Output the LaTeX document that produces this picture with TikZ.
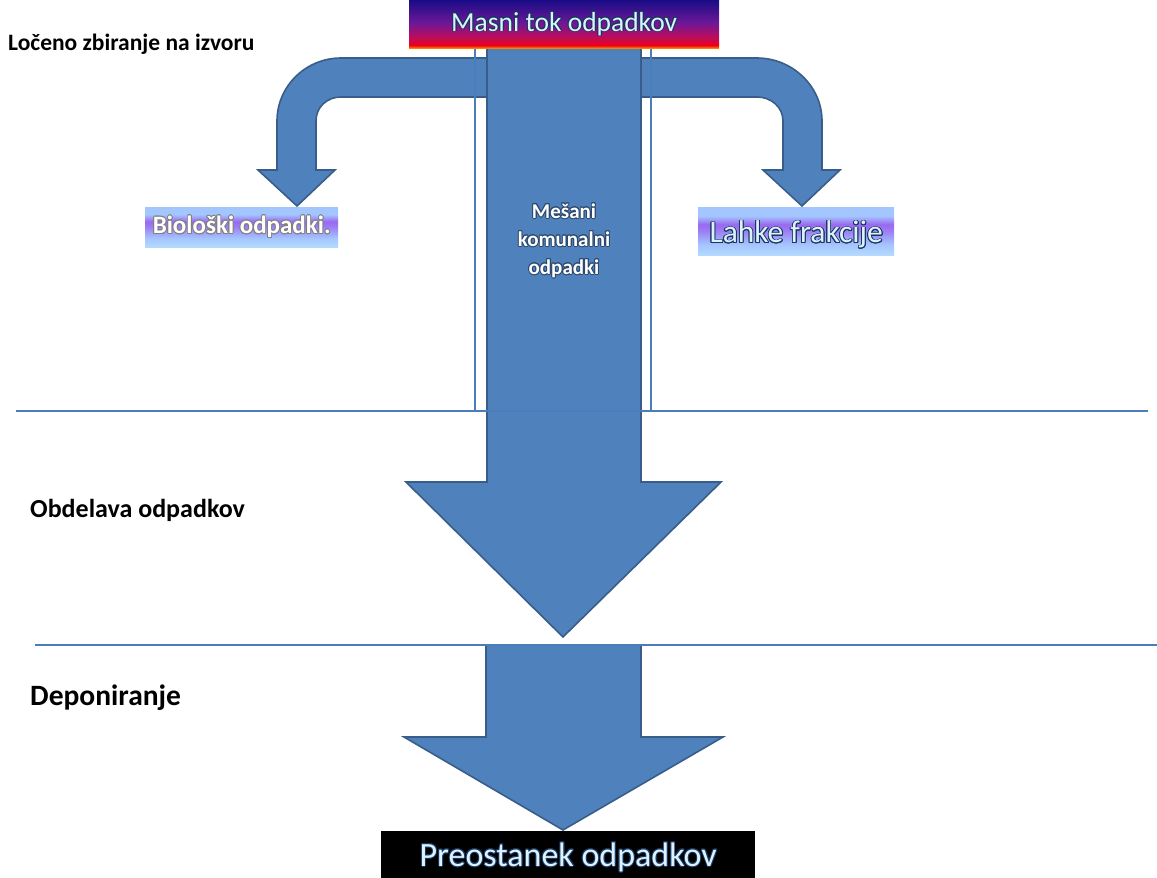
\documentclass[tikz,border=0pt]{standalone}
\usepackage{fontspec}
\setmainfont{Carlito}
\usepackage{xcolor}
\usepackage[copies]{contour}
\usetikzlibrary{positioning}
\definecolor{flowfill}{HTML}{4F81BD}
\definecolor{flowedge}{HTML}{385D8A}
\definecolor{divline}{HTML}{4A7EBB}
\definecolor{glowtxt}{HTML}{DCF2FF}
\definecolor{glowedge}{HTML}{17375E}
\definecolor{barnavy}{HTML}{1A0C86}
\definecolor{barpurple}{HTML}{6A1898}
\definecolor{barmagenta}{HTML}{C00C5A}
\definecolor{barred}{HTML}{EE0018}
\definecolor{barorange}{HTML}{FF8A00}
\definecolor{lilactop}{HTML}{A4C6FF}
\definecolor{lilacmid}{HTML}{9A68F0}
\definecolor{lilacbot}{HTML}{B4DAFF}
\pgfdeclareverticalshading{masnibar}{100bp}{color(0bp)=(barorange); color(25bp)=(barorange);
  color(28bp)=(barred); color(36bp)=(barmagenta); color(52bp)=(barpurple);
  color(75bp)=(barnavy); color(100bp)=(barnavy)}
\pgfdeclareverticalshading{lilacbar}{100bp}{color(0bp)=(lilacbot); color(25bp)=(lilacbot);
  color(36bp)=(lilactop); color(50bp)=(lilacmid!75!lilactop); color(57bp)=(lilacmid);
  color(66bp)=(lilactop); color(75bp)=(lilactop); color(100bp)=(lilactop)}
\contourlength{0.9pt}
\tikzstyle{flow} = [fill=flowfill, draw=flowedge, line width=1.6pt, line join=miter]
\tikzstyle{divider} = [draw=divline, line width=1.6pt]
\tikzstyle{stage} = [anchor=west, inner sep=0pt, font=\bfseries]
\tikzstyle{fraction} = [anchor=north west, shading=lilacbar, inner sep=0pt]

\begin{document}
\begin{tikzpicture}[x=1pt, y=-1pt]
\useasboundingbox (0,0) rectangle (1157,878);
\draw[flow] (487,58) -- (341,58) .. controls (306,58) and (277,86) .. (277,121)
    -- (277,170) -- (258,170) -- (297,206) -- (335,170) -- (316,170) -- (316,121)
    .. controls (316,107) and (327,97) .. (341,97) -- (487,97) -- cycle;
\draw[flow] (641,58) -- (757,58) .. controls (792,58) and (822,86) .. (822,121)
    -- (822,170) -- (840,170) -- (802,206) -- (763,170) -- (783,170) -- (783,121)
    .. controls (783,107) and (771,97) .. (757,97) -- (641,97) -- cycle;
\draw[divline, line width=1.2pt] (475,40) rectangle (651,411);
\draw[flow] (487,40) -- (641,40) -- (641,482) -- (721,482) -- (563,637)
    -- (406,482) -- (487,482) -- cycle;
\draw[flow] (486,645) -- (641,645) -- (641,737) -- (723,737) -- (563,830)
    -- (404,737) -- (486,737) -- cycle;
\draw[divider] (16,411) -- (1148,411);
\draw[divider] (35,645) -- (1157,645);
\node[anchor=north west, shading=masnibar, minimum width=310, minimum height=48,
    inner sep=0pt, font=\fontsize{27.5}{29}\selectfont] (masni) at (409,0)
    {\textcolor{glowtxt}{\contour{glowedge}{Masni tok odpadkov}}};
\node[align=center, text=white, font=\bfseries\fontsize{21}{28}\selectfont] (mesani) at (564,241)
    {\contour{flowedge!80!black}{Mešani}\\\contour{flowedge!80!black}{komunalni}\\\contour{flowedge!80!black}{odpadki}};
\node[fraction, minimum width=193, minimum height=40, text=white,
    font=\bfseries\fontsize{25}{27}\selectfont] (bio) at (145,207)
    {\contourlength{0.8pt}\contour{gray}{Biološki odpadki.}};
\node[fraction, minimum width=196, minimum height=48,
    font=\fontsize{31.5}{33}\selectfont] (lahke) at (698,207)
    {\raisebox{-4pt}[\height][\depth]{\textcolor{glowtxt}{\contour{glowedge}{Lahke frakcije}}}};
\node[anchor=north west, fill=black, minimum width=374, minimum height=47, inner sep=0pt,
    font=\fontsize{34}{36}\selectfont] (ostanek) at (381,831)
    {\raisebox{-3pt}[\height][\depth]{\textcolor{glowtxt}{\contour{glowedge}{Preostanek odpadkov}}}};
\node[stage, font=\bfseries\fontsize{23.5}{25}\selectfont] (locevanje) at (8,44) {Ločeno zbiranje na izvoru};
\node[stage, font=\bfseries\fontsize{26}{28}\selectfont] (obdelava) at (30,510) {Obdelava odpadkov};
\node[stage, font=\bfseries\fontsize{29.5}{31}\selectfont] (deponija) at (30,698) {Deponiranje};
\end{tikzpicture}
\end{document}
